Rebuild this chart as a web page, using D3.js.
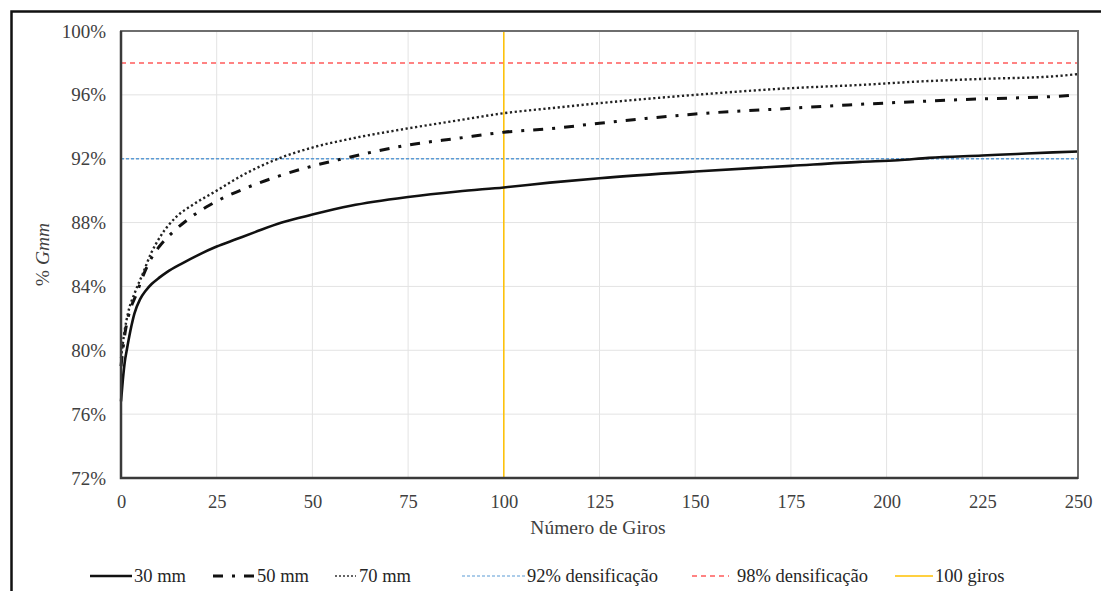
<!DOCTYPE html>
<html>
<head>
<meta charset="utf-8">
<script src="https://cdn.jsdelivr.net/npm/d3@7"></script>
<style>
  body { margin: 0; background: #fff; }
  svg { display: block; }
</style>
</head>
<body>
<svg id="chart" width="1101" height="591"></svg>
<script>
// readings: gyrations vs % Gmm
const giros30 = [0, 0.5, 1, 1.5, 2.7, 3.5, 5, 6.5, 8, 10, 12, 16, 20, 25, 30, 35, 42, 50, 60, 75, 88, 100, 112, 125, 150, 175, 193, 203, 211, 225, 234, 243.5, 250];
const gmm30 = [76.8, 78.2, 79.3, 80.0, 81.5, 82.3, 83.2, 83.75, 84.15, 84.55, 84.9, 85.45, 85.95, 86.5, 86.95, 87.4, 88.0, 88.5, 89.05, 89.6, 89.95, 90.2, 90.5, 90.78, 91.2, 91.55, 91.8, 91.9, 92.05, 92.2, 92.3, 92.4, 92.45];

const giros50 = [0, 1, 2, 4, 6, 8, 10, 14, 17.5, 23.2, 32, 40.7, 49.4, 58, 75, 88, 100, 112, 125, 150, 175, 190, 208, 225, 243, 250];
const gmm50 = [79.0, 81.0, 82.2, 83.5, 84.8, 85.8, 86.5, 87.5, 88.2, 89.1, 90.1, 90.87, 91.5, 92.0, 92.86, 93.28, 93.66, 93.88, 94.22, 94.8, 95.16, 95.37, 95.58, 95.75, 95.89, 96.0];

const giros70 = [0, 1, 1.8, 3.6, 5.7, 7.9, 10.2, 14.5, 19, 25, 32, 40, 50, 60, 75, 88, 100, 112, 125, 150, 175, 193, 208, 225, 243, 250];
const gmm70 = [79.5, 81.3, 82.3, 83.6, 84.8, 86.1, 87.1, 88.37, 89.15, 90.0, 91.0, 91.9, 92.7, 93.25, 93.9, 94.4, 94.85, 95.16, 95.48, 96.0, 96.42, 96.62, 96.83, 97.0, 97.15, 97.3];

const xTicks = [0, 25, 50, 75, 100, 125, 150, 175, 200, 225, 250];
const yTicks = [72, 76, 80, 84, 88, 92, 96, 100];
const densif92 = 92;
const densif98 = 98;
const girosRef = 100;

const FONT = '"Liberation Serif", "Times New Roman", serif';
const svg = d3.select("#chart");
const m = { left: 121, top: 31, right: 1078, bottom: 478 };

// outer frame (cropped on right/bottom in the source)
svg.append("rect")
  .attr("x", 11.5).attr("y", 11.5)
  .attr("width", 1200).attr("height", 700)
  .attr("fill", "none").attr("stroke", "#111").attr("stroke-width", 2.5);

const x = d3.scaleLinear().domain([0, 250]).range([m.left, m.right]);
const y = d3.scaleLinear().domain([72, 100]).range([m.bottom, m.top]);

// grid
svg.append("g").selectAll("line").data(yTicks).join("line")
  .attr("x1", m.left).attr("x2", m.right)
  .attr("y1", (d) => y(d)).attr("y2", (d) => y(d))
  .attr("stroke", "#e3e3e3").attr("stroke-width", 1);
svg.append("g").selectAll("line").data(xTicks).join("line")
  .attr("x1", (d) => x(d)).attr("x2", (d) => x(d))
  .attr("y1", m.top).attr("y2", m.bottom)
  .attr("stroke", "#e3e3e3").attr("stroke-width", 1);

// axes labels
const yAxis = svg.append("g")
  .attr("transform", `translate(${m.left},0)`)
  .call(d3.axisLeft(y).tickValues(yTicks).tickFormat((d) => d + "%").tickSize(0).tickPadding(15));
yAxis.select(".domain").remove();
yAxis.selectAll("text").attr("font-size", 19).attr("fill", "#404040");

const xAxis = svg.append("g")
  .attr("transform", `translate(0,${m.bottom})`)
  .call(d3.axisBottom(x).tickValues(xTicks).tickSize(0).tickPadding(17));
xAxis.select(".domain").remove();
xAxis.selectAll("text").attr("font-size", 18.5).attr("fill", "#404040");

// reference lines
function hline(v, color, dash) {
  svg.append("line")
    .attr("x1", m.left).attr("x2", m.right)
    .attr("y1", y(v)).attr("y2", y(v))
    .attr("stroke", color).attr("stroke-width", 1.5)
    .attr("stroke-dasharray", dash);
}
hline(densif98, "#ff5b5b", "5,4");
hline(densif92, "#5b9bd5", "3,2");
svg.append("line")
  .attr("x1", x(girosRef)).attr("x2", x(girosRef))
  .attr("y1", m.top).attr("y2", m.bottom)
  .attr("stroke", "#ffc000").attr("stroke-width", 1.5);

// curves
const lineGen = d3.line()
  .x((d) => x(d[0]))
  .y((d) => y(d[1]))
  .curve(d3.curveMonotoneX);

const series = [
  { label: "30 mm", g: giros30, v: gmm30, color: "#111", width: 2.6, dash: null },
  { label: "50 mm", g: giros50, v: gmm50, color: "#111", width: 3, dash: "10,9,3,9" },
  { label: "70 mm", g: giros70, v: gmm70, color: "#222", width: 2.4, dash: "2.2,2.6" },
];

series.forEach((s) => {
  const p = svg.append("path")
    .datum(s.g.map((g, i) => [g, s.v[i]]))
    .attr("fill", "none")
    .attr("stroke", s.color)
    .attr("stroke-width", s.width)
    .attr("d", lineGen);
  if (s.dash) p.attr("stroke-dasharray", s.dash);
});

// plot frame
svg.append("rect")
  .attr("x", m.left).attr("y", m.top)
  .attr("width", m.right - m.left).attr("height", m.bottom - m.top)
  .attr("fill", "none").attr("stroke", "#6e6e6e").attr("stroke-width", 2);
svg.append("path")
  .attr("d", `M${m.left},${m.top}V${m.bottom}H${m.right}`)
  .attr("fill", "none").attr("stroke", "#3a3a3a").attr("stroke-width", 2.5);

// axis titles
const yTitle = svg.append("text")
  .attr("transform", `translate(49,${(m.top + m.bottom) / 2}) rotate(-90)`)
  .attr("text-anchor", "middle")
  .attr("font-size", 19.5).attr("fill", "#404040");
yTitle.append("tspan").text("% ");
yTitle.append("tspan").attr("font-style", "italic").text("Gmm");

svg.append("text")
  .attr("x", 598).attr("y", 534)
  .attr("text-anchor", "middle")
  .attr("font-size", 19.5).attr("fill", "#404040")
  .text("Número de Giros");

// legend
const legendItems = [
  { label: "30 mm", x1: 90, x2: 132, tx: 134, color: "#111", width: 2.6, dash: null },
  { label: "50 mm", x1: 213, x2: 256, tx: 257, color: "#111", width: 3, dash: "10,9,3,9" },
  { label: "70 mm", x1: 335, x2: 356, tx: 359, color: "#333", width: 1.5, dash: "2,2" },
  { label: "92% densificação", x1: 462, x2: 525, tx: 527, color: "#5b9bd5", width: 1.2, dash: "3,2" },
  { label: "98% densificação", x1: 692, x2: 729, tx: 737, color: "#ff5b5b", width: 1.3, dash: "5,4" },
  { label: "100 giros", x1: 895, x2: 933, tx: 935, color: "#ffc000", width: 1.5, dash: null },
];
const ly = 576;
legendItems.forEach((d) => {
  const l = svg.append("line")
    .attr("x1", d.x1).attr("x2", d.x2).attr("y1", ly).attr("y2", ly)
    .attr("stroke", d.color).attr("stroke-width", d.width);
  if (d.dash) l.attr("stroke-dasharray", d.dash);
  svg.append("text")
    .attr("x", d.tx).attr("y", ly + 6)
    .attr("font-size", 18.5).attr("fill", "#262626")
    .text(d.label);
});

// serif everywhere (inline style beats the axis' font-family attribute)
svg.selectAll("text").style("font-family", FONT);
</script>
</body>
</html>
